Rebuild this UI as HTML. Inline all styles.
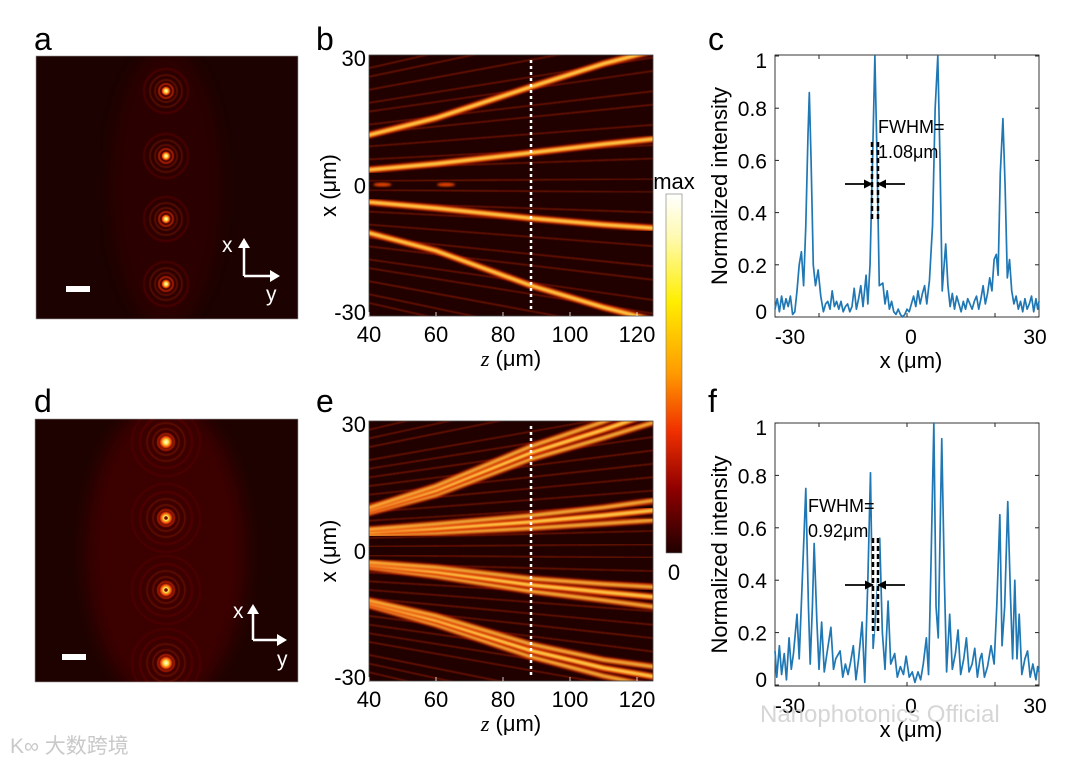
<!DOCTYPE html>
<html><head><meta charset="utf-8"><style>
html,body{margin:0;padding:0;background:#fff;}
svg{display:block;font-family:"Liberation Sans",Arial,sans-serif;}
</style></head><body>
<svg id="fig" width="1080" height="765" viewBox="0 0 1080 765" xmlns="http://www.w3.org/2000/svg">
<defs>
<filter id="blur1" x="-10%" y="-10%" width="120%" height="120%"><feGaussianBlur stdDeviation="1.0"/></filter>
<filter id="blur2"><feGaussianBlur stdDeviation="0.6"/></filter>
<filter id="blur3"><feGaussianBlur stdDeviation="8"/></filter>
<radialGradient id="spotA"><stop offset="0" stop-color="#ffffff"/><stop offset="0.3" stop-color="#ffe040"/><stop offset="0.7" stop-color="#e03000"/><stop offset="1" stop-color="#300000" stop-opacity="0"/></radialGradient>
<linearGradient id="cbar" x1="0" y1="0" x2="0" y2="1">
<stop offset="0" stop-color="#ffffff"/><stop offset="0.12" stop-color="#fffab0"/><stop offset="0.3" stop-color="#ffee00"/><stop offset="0.5" stop-color="#ff9a00"/><stop offset="0.66" stop-color="#f03000"/><stop offset="0.82" stop-color="#900000"/><stop offset="1" stop-color="#200000"/></linearGradient>
<clipPath id="clipB"><rect x="369" y="55" width="284" height="261"/></clipPath>
<clipPath id="clipE"><rect x="369" y="421" width="284" height="260"/></clipPath>
<clipPath id="clipA"><rect x="36" y="56" width="262" height="263"/></clipPath>
<clipPath id="clipD"><rect x="35" y="419" width="263" height="263"/></clipPath>
<marker id="arrR" markerWidth="9" markerHeight="9" refX="8" refY="4.5" orient="auto" markerUnits="userSpaceOnUse"><path d="M0,0 L9,4.5 L0,9 z" fill="#000"/></marker>
</defs>

<g font-size="32" fill="#000">
<text x="34" y="50">a</text>
<text x="316" y="50">b</text>
<text x="708" y="50">c</text>
<text x="34" y="412">d</text>
<text x="316" y="412">e</text>
<text x="708" y="412">f</text>
</g>

<g id="pa" clip-path="url(#clipA)">
<rect x="36" y="56" width="262" height="263" fill="#1c0200"/>
</g>
<rect x="36" y="56" width="262" height="263" fill="none" stroke="#999" stroke-width="0.6"/>
<rect x="66" y="286" width="24" height="6" fill="#fff"/>
<g stroke="#fff" stroke-width="2.5" fill="#fff">
<line x1="244" y1="276" x2="244" y2="246"/><path d="M238,248 L244,238 L250,248 z" stroke="none"/>
<line x1="244" y1="276" x2="272" y2="276"/><path d="M270,270 L280,276 L270,282 z" stroke="none"/>
<text x="222" y="252" font-size="21" stroke="none">x</text><text x="266" y="301" font-size="21" stroke="none">y</text>
</g>

<g id="pd" clip-path="url(#clipD)">
<rect x="35" y="419" width="263" height="263" fill="#1e0200"/>
</g>
<rect x="35" y="419" width="263" height="263" fill="none" stroke="#999" stroke-width="0.6"/>
<rect x="62" y="654" width="24" height="6" fill="#fff"/>
<g stroke="#fff" stroke-width="2.5" fill="#fff">
<line x1="253" y1="640" x2="253" y2="612"/><path d="M247,614 L253,604 L259,614 z" stroke="none"/>
<line x1="253" y1="640" x2="279" y2="640"/><path d="M277,634 L287,640 L277,646 z" stroke="none"/>
<text x="233" y="618" font-size="21" stroke="none">x</text><text x="277" y="666" font-size="21" stroke="none">y</text>
</g>

<g id="pb" clip-path="url(#clipB)">
<rect x="369" y="55" width="284" height="261" fill="#200100"/>
</g>
<line x1="531" y1="60" x2="531" y2="312" stroke="#fff" stroke-width="2.5" stroke-dasharray="3,3"/>
<rect x="369" y="55" width="284" height="261" fill="none" stroke="#444" stroke-width="0.8"/>
<g id="pe" clip-path="url(#clipE)">
<rect x="369" y="421" width="284" height="260" fill="#200100"/>
</g>
<line x1="531" y1="426" x2="531" y2="678" stroke="#fff" stroke-width="2.5" stroke-dasharray="3,3"/>
<rect x="369" y="421" width="284" height="260" fill="none" stroke="#444" stroke-width="0.8"/>

<g id="axB" font-size="22" fill="#000"></g>

<rect x="666" y="194" width="16" height="359" fill="url(#cbar)" stroke="#777" stroke-width="0.6"/>
<text x="674" y="189" font-size="22" text-anchor="middle">max</text>
<text x="674" y="580" font-size="22" text-anchor="middle">0</text>

<g id="pc"></g>
<g id="pf"></g>

<text x="760" y="722" font-size="24" fill="#c8c8c8" fill-opacity="0.75">Nanophotonics Official</text>
<text x="10" y="753" font-size="21" fill="#bbb" fill-opacity="0.8" font-family="Liberation Sans, Noto Sans CJK SC, sans-serif">K∞ 大数跨境</text>
</svg>

<script>
// ---------- data ----------
const spotYa = [91, 156, 219, 284];
const spotYd = [442, 518, 590, 663];
const beamZ = [40, 60, 88, 110, 125];
const beamsB = [[11.6, 15.5, 22.6, 28, 31], [3.6, 5, 7.5, 9.5, 10.7], [-3.8, -5.2, -7.5, -9, -9.8], [-10.9, -15, -22.9, -28, -31]];
const beamsE = [[9.4, 14, 22.6, 28, 32], [4.4, 5.2, 6.7, 8.2, 9.4], [-3.2, -4.8, -7.8, -9.5, -10.6], [-12, -16, -22.9, -27, -29]];
const beamLevel = [0.6, 0.8, 1, 0.85, 0.65];
const stripesB = [-30,-27,-25,-22,-19,-17,-14,-12,-9,-6,-4,-1,1,4,6,9,12,14,17,19,22,25,27,30];
const stripesE = [-30,-28,-26,-24,-21,-19,-17,-15,-13,-11,-9,-7,-5,-3,-1,1,3,5,7,9,11,13,15,17,19,21,24,26,28,30];
const zTicks = [40, 60, 80, 100, 120];
const xTicksMap = [30, 0, -30];
const seriesC = [[-30,.03],[-29.5,.07],[-29,.02],[-28.5,.08],[-28,.03],[-27.5,.07],[-27,.04],[-26.5,.08],[-26,.01],[-25.5,.02],[-25,.1],[-24.5,.2],[-24,.25],[-23.5,.12],[-23,.35],[-22.5,.7],[-22.2,.86],[-21.8,.6],[-21.3,.2],[-20.8,.12],[-20.2,.18],[-19.6,.08],[-19,.02],[-18.5,.05],[-18,.06],[-17.5,.03],[-17,.1],[-16.5,.04],[-16,.06],[-15.5,.03],[-15,.06],[-14.5,.02],[-14,.04],[-13.5,.05],[-13,.02],[-12.5,.04],[-12,.11],[-11.5,.03],[-11,.07],[-10.5,.12],[-10,.04],[-9.3,.16],[-8.9,.05],[-8.4,.2],[-7.9,.55],[-7.3,1.0],[-6.8,.6],[-6.3,.12],[-5.5,.13],[-5,.05],[-4.5,.1],[-4,.03],[-3.5,.06],[-3,.02],[-2.5,.01],[-2,.03],[-1.5,.01],[-1,0],[-.5,.01],[0,.03],[.5,.02],[1,.05],[1.5,.08],[2,.04],[2.5,.1],[3,.05],[3.5,.09],[4,.12],[4.5,.05],[5.1,.14],[5.8,.35],[6.4,.8],[7,1.0],[7.5,.6],[8,.1],[8.8,.28],[9.3,.12],[9.8,.04],[10.3,.09],[10.8,.03],[11.3,.08],[11.8,.05],[12.3,.02],[12.8,.06],[13.3,.03],[13.8,.07],[14.3,.05],[14.8,.03],[15.3,.06],[15.8,.08],[16.3,.03],[16.8,.07],[17.3,.12],[17.8,.05],[18.3,.09],[18.8,.15],[19.3,.1],[19.8,.22],[20.3,.24],[20.7,.16],[21.2,.55],[21.8,.76],[22.3,.5],[22.8,.15],[23.3,.22],[23.8,.1],[24.3,.05],[24.8,.08],[25.3,.03],[25.8,.06],[26.3,.02],[26.8,.07],[27.3,.03],[27.8,.05],[28.3,.08],[28.8,.02],[29.3,.07],[29.7,.03],[30,.06]];
const seriesF = [[-30,.13],[-29.6,.03],[-29,.15],[-28.5,.04],[-27.9,.12],[-27.4,.02],[-26.8,.18],[-26.3,.06],[-25.8,.12],[-25,.27],[-24.5,.1],[-23.8,.4],[-23,.75],[-22.4,.3],[-22,.08],[-21.5,.3],[-21.1,.54],[-20.5,.25],[-20,.06],[-19.4,.24],[-18.8,.05],[-18.2,.12],[-17.3,.22],[-16.7,.06],[-16.2,.1],[-15.2,.13],[-14.6,.03],[-14,.08],[-13.4,.04],[-12.8,.09],[-12.2,.15],[-11.6,.02],[-11,.1],[-10.2,.24],[-9.6,.01],[-8.9,.4],[-8.3,.81],[-7.7,.14],[-7,.3],[-6.2,.56],[-5.6,.2],[-5,.06],[-4.3,.32],[-3.7,.08],[-2.8,.12],[-2.2,.03],[-1.5,.07],[-.8,.04],[-.2,.11],[.5,.03],[1.2,.05],[1.8,.01],[2.5,.05],[3.1,.02],[3.7,.08],[4.4,.18],[4.9,.04],[5.5,.5],[6.1,1.0],[6.6,.3],[7.1,.18],[7.9,.94],[8.5,.4],[9,.05],[9.7,.27],[10.3,.06],[11,.12],[11.6,.21],[12.2,.04],[12.9,.1],[13.5,.18],[14.1,.05],[14.8,.08],[15.4,.14],[16,.03],[16.6,.1],[17,.12],[17.6,.03],[18.3,.07],[19.1,.15],[19.8,.08],[20.4,.3],[21.1,.65],[21.6,.15],[22.2,.3],[22.9,.7],[23.5,.35],[24,.1],[24.5,.4],[25,.1],[25.5,.27],[26.1,.04],[26.8,.1],[27.4,.13],[28,.03],[28.6,.08],[29.3,.02],[29.7,.07],[30,.05]];
const yTicks = [0, 0.2, 0.4, 0.6, 0.8, 1];
const xTicksLine = [-20, 0, 20];
const xLabelsLine = ["-30", "0", "30"];

// ---------- helpers ----------
const NS = "http://www.w3.org/2000/svg";
function mk(tag, attrs, parent, txt) {
  const e = document.createElementNS(NS, tag);
  for (const k in attrs) e.setAttribute(k, attrs[k]);
  if (txt !== undefined) e.textContent = txt;
  parent.appendChild(e);
  return e;
}
const zb = z => 369 + (z - 40) * 3.35;
const xb = x => 185.5 - x * 4.35;
const xe = x => 551 - x * 4.33;

// ---------- spot images ----------
function spots(gid, ys, cx, big) {
  const g = document.getElementById(gid);
  mk('ellipse', {cx: cx, cy: (ys[0] + ys[3]) / 2, rx: big ? 80 : 55, ry: big ? 150 : 140, fill: big ? '#3a0500' : '#2c0300', filter: 'url(#blur3)'}, g);
  ys.forEach((cy, i) => {
    const radii = big ? [8, 13, 19, 26, 34] : [7, 11, 16, 22];
    radii.forEach((r, j) => {
      const c = mk('circle', {cx: cx, cy: cy, r: r, fill: 'none', stroke: j === 0 ? '#b02000' : '#6a0e00', 'stroke-width': 2.2, 'stroke-opacity': 0.9 - j * 0.15, filter: 'url(#blur2)'}, g);
      
      
    });
    const s = mk('circle', {cx: cx, cy: cy, r: big ? 8 : 5.5, fill: 'url(#spotA)'}, g);
    
    
    if (big && (i === 1 || i === 2)) mk('circle', {cx: cx, cy: cy, r: 1.8, fill: '#700800'}, g);
  });
}
spots('pa', spotYa, 166, false);
spots('pd', spotYd, 166, true);

// ---------- heatmaps ----------
function heat(gid, beams, stripes, xm, offs) {
  const g = document.getElementById(gid);
  stripes.forEach(x0 => {
    const l = mk('line', {x1: zb(40), y1: xm(x0), x2: zb(125), y2: xm(x0 * 1.55), stroke: '#9a1c00', 'stroke-width': 1.8, 'stroke-opacity': 0.55, filter: 'url(#blur2)'}, g);
    
    
  });
  beams.forEach(b => {
    offs.forEach(o => {
      const pts = beamZ.map((z, i) => zb(z) + ',' + xm(b[i] + o * (0.5 + i * 0.35))).join(' ');
      const layers = [['#d01800', 7, 0.8], ['#ff7000', 4.5, 0.9], ['#ffe860', 2.4, 0.95]];
      layers.forEach(L => {
        const p = mk('polyline', {points: pts, fill: 'none', stroke: L[0], 'stroke-width': L[1], 'stroke-opacity': L[2] * (offs.length > 1 && o !== 0 ? 0.75 : 1), 'stroke-linecap': 'round', filter: 'url(#blur1)'}, g);
        
        
      });
    });
  });
}
heat('pb', beamsB, stripesB, xb, [0]);
heat('pe', beamsE, stripesE, xe, [-1.2, 0, 1.2]);
(function(){
  const g = document.getElementById('pb');
  [[44, 0.2], [63, 0.2]].forEach(d => {
    const e = mk('ellipse', {cx: zb(d[0]), cy: xb(d[1]), rx: 9, ry: 2, fill: '#e04000', filter: 'url(#blur1)'}, g);
    
    
  });
})();

(function(){
  const g = document.getElementById('axB');
  [[55, 316, xb, 'b'], [421, 681, xe, 'e']].forEach(P => {
    const top = P[0], bot = P[1], xm = P[2];
    xTicksMap.forEach(v => {
      const t = mk('text', {x: 366, y: xm(v) + 8 + (v === 30 ? 3 : v === -30 ? -4 : 0), 'text-anchor': 'end'}, g, String(v));
      
      
    });
    zTicks.forEach(z => {
      mk('line', {x1: zb(z), y1: bot, x2: zb(z), y2: bot - 4, stroke: '#fff', 'stroke-width': 0.8}, g);
      const t = mk('text', {x: zb(z), y: bot + 26, 'text-anchor': 'middle'}, g, String(z));
      
      
    });
    const xl = mk('text', {x: 511, y: bot + 50, 'text-anchor': 'middle', 'font-size': 22}, g);
    xl.innerHTML = '<tspan font-family="Liberation Serif" font-style="italic">z</tspan> (μm)';
    
    
    const cy = (top + bot) / 2;
    const yl = mk('text', {x: 0, y: 0, transform: 'translate(336,' + cy + ') rotate(-90)', 'text-anchor': 'middle', 'font-size': 22}, g, 'x (μm)');
    
    
  });
})();

// ---------- line plots ----------
function linePlot(gid, data, top, bot, y0, y1, name, fw) {
  const g = document.getElementById(gid);
  const L = 775, R = 1039;
  const xs = v => 775 + (v + 30) * 4.4;
  const ys = v => y0 - v * (y0 - y1);
  mk('rect', {x: L, y: top, width: R - L, height: bot - top, fill: '#fff', stroke: '#222', 'stroke-width': 0.9}, g);
  yTicks.forEach(v => {
    mk('line', {x1: L, y1: ys(v), x2: L + 4, y2: ys(v), stroke: '#222'}, g);
    mk('line', {x1: R, y1: ys(v), x2: R - 4, y2: ys(v), stroke: '#222'}, g);
    const t = mk('text', {x: 767, y: ys(v) + 8 - (v === 0 ? 6 : 0) + (v === 1 ? 4 : 0), 'text-anchor': 'end', 'font-size': 21}, g, String(v));
    
    
  });
  xTicksLine.forEach(v => {
    mk('line', {x1: xs(v), y1: bot, x2: xs(v), y2: bot - 4, stroke: '#222'}, g);
    mk('line', {x1: xs(v), y1: top, x2: xs(v), y2: top + 4, stroke: '#222'}, g);
  });
  [[790, 0], [911, 1], [1035, 2]].forEach(p => {
    const t = mk('text', {x: p[0], y: bot + 27, 'text-anchor': 'middle', 'font-size': 21}, g, xLabelsLine[p[1]]);
    
    
  });
  const xt = mk('text', {x: 911, y: bot + 51, 'text-anchor': 'middle', 'font-size': 22}, g, 'x (μm)');
  
  
  const yt = mk('text', {x: 0, y: 0, transform: 'translate(727,' + ((top + bot) / 2) + ') rotate(-90)', 'text-anchor': 'middle', 'font-size': 22}, g, 'Normalized intensity');
  
  
  const line = mk('polyline', {points: data.map(d => xs(d[0]) + ',' + ys(d[1])).join(' '), fill: 'none', stroke: '#1f77b4', 'stroke-width': 1.7, 'stroke-linejoin': 'round'}, g);
  
  
  const a = mk('g', {}, g);
  
  
  mk('text', {x: fw.tx, y: fw.ty, 'font-size': 18}, a, 'FWHM=');
  mk('text', {x: fw.tx, y: fw.ty + 25, 'font-size': 18}, a, fw.val);
  [fw.x1, fw.x2].forEach(x => {
    if (fw.white) mk('line', {x1: x, y1: fw.l1, x2: x, y2: fw.l2, stroke: '#fff', 'stroke-width': 2.5}, a);
    mk('line', {x1: x, y1: fw.l1, x2: x, y2: fw.l2, stroke: '#000', 'stroke-width': 2.5, 'stroke-dasharray': '5,3'}, a);
  });
  mk('line', {x1: 845, y1: fw.ay, x2: fw.x1, y2: fw.ay, stroke: '#000', 'stroke-width': 1.8, 'marker-end': 'url(#arrR)'}, a);
  mk('line', {x1: 905, y1: fw.ay, x2: fw.x2, y2: fw.ay, stroke: '#000', 'stroke-width': 1.8, 'marker-end': 'url(#arrR)'}, a);
}
linePlot('pc', seriesC, 55, 317, 317, 56, 'c', {tx: 878, ty: 133, val: '1.08μm', x1: 872, x2: 878, l1: 142, l2: 222, ay: 184, white: false});
linePlot('pf', seriesF, 423, 686, 685, 423, 'f', {tx: 808, ty: 512, val: '0.92μm', x1: 873, x2: 878, l1: 538, l2: 634, ay: 585, white: true});
</script>
</body></html>
